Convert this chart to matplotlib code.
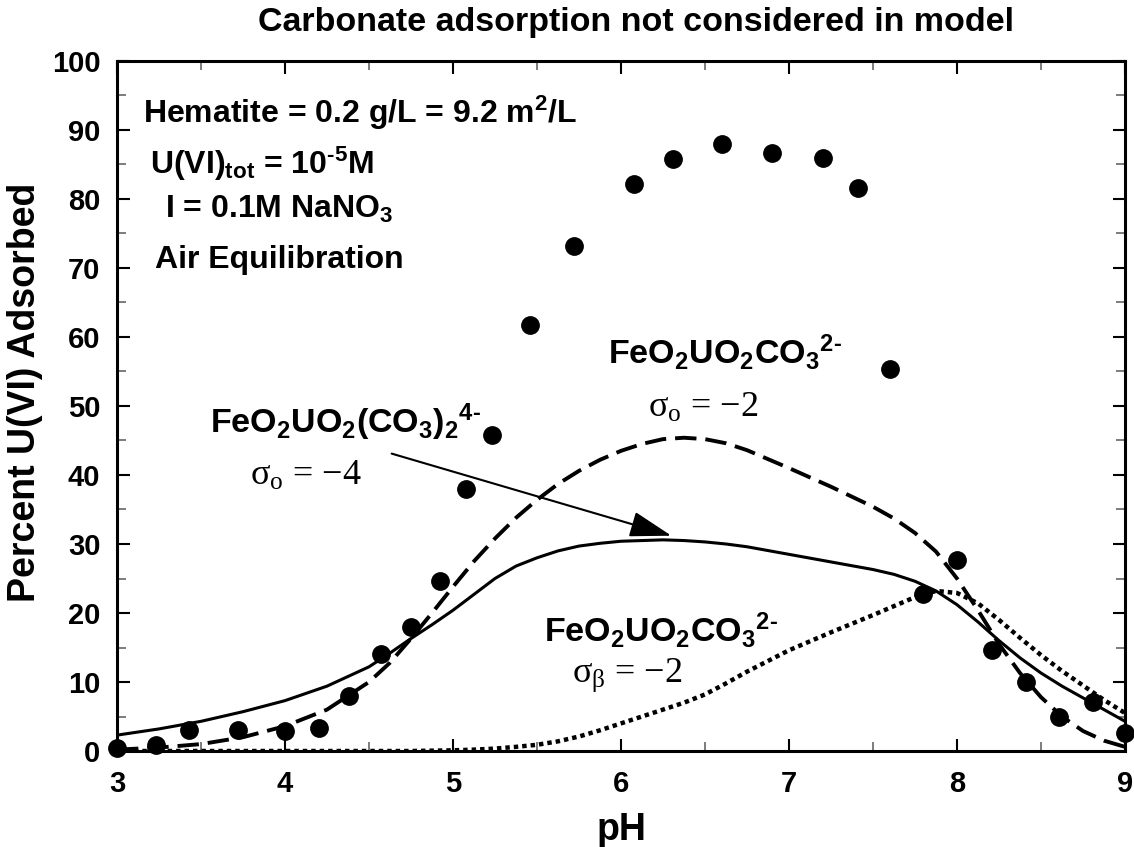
import matplotlib
matplotlib.use("Agg")
from matplotlib import pyplot as plt
import numpy as np

plt.rcParams['font.family'] = ['Liberation Sans', 'DejaVu Sans']
plt.rcParams['font.weight'] = 'bold'

# measured data (filled circles)
ph_data = [3.0, 3.23, 3.43, 3.72, 4.0, 4.2, 4.38, 4.57, 4.75, 4.92, 5.08, 5.23,
           5.46, 5.72, 6.08, 6.31, 6.60, 6.90, 7.20, 7.41, 7.60, 7.80, 8.0,
           8.21, 8.41, 8.61, 8.81, 9.0]
ads_data = [0.5, 0.9, 3.1, 3.0, 2.9, 3.4, 7.9, 14.0, 17.9, 24.6, 37.9, 45.8,
            61.7, 73.2, 82.2, 85.8, 87.9, 86.7, 85.9, 81.6, 55.3, 22.8, 27.7,
            14.6, 10.0, 4.9, 7.1, 2.6]

# model curves
ph_model = [3.0, 3.25, 3.5, 3.75, 4.0, 4.25, 4.5, 4.625, 4.75, 4.875, 5.0,
            5.125, 5.25, 5.375, 5.5, 5.625, 5.75, 5.875, 6.0, 6.125, 6.25,
            6.375, 6.5, 6.625, 6.75, 7.0, 7.25, 7.5, 7.625, 7.75, 7.875, 8.0,
            8.125, 8.25, 8.375, 8.5, 8.625, 8.75, 8.875, 9.0]
# FeO2UO2CO3(2-), sigma_o = -2  (dashed)
mono_o = [0.2, 0.5, 1.0, 2.0, 3.6, 6.0, 10.0, 12.8, 16.3, 20.0, 23.8,
          27.5, 30.8, 33.8, 36.4, 38.7, 40.6, 42.2, 43.5, 44.5, 45.2,
          45.4, 45.2, 44.6, 43.6, 41.0, 38.3, 35.4, 33.7, 31.6, 28.9, 25.0,
          20.4, 15.5, 11.3, 7.8, 5.0, 2.9, 1.5, 0.6]
# FeO2UO2(CO3)2(4-), sigma_o = -4  (solid)
bis_o = [2.3, 3.2, 4.3, 5.7, 7.3, 9.4, 12.2, 14.2, 16.3, 18.3, 20.4,
         22.7, 25.0, 26.8, 28.0, 29.0, 29.7, 30.1, 30.4, 30.5, 30.6,
         30.5, 30.3, 30.0, 29.6, 28.5, 27.4, 26.3, 25.6, 24.6, 23.2, 21.2,
         18.7, 16.0, 13.5, 11.3, 9.4, 7.7, 6.0, 4.3]
# FeO2UO2CO3(2-), sigma_beta = -2  (dotted)
mono_b = [0.0, 0.0, 0.0, 0.0, 0.0, 0.0, 0.0, 0.0, 0.0, 0.05, 0.1,
          0.2, 0.35, 0.6, 0.9, 1.4, 2.1, 3.0, 4.0, 5.0, 6.0,
          7.0, 8.2, 9.8, 11.5, 14.6, 17.2, 19.7, 21.0, 22.3, 23.2, 22.9,
          21.4, 19.0, 16.4, 13.9, 11.6, 9.5, 7.4, 5.5]

xticks = [3, 4, 5, 6, 7, 8, 9]
yticks = [0, 10, 20, 30, 40, 50, 60, 70, 80, 90, 100]

fig = plt.figure(figsize=(11.34, 8.47), dpi=100)
ax = fig.add_axes([117/1134, 96/847, 1008/1134, 690/847])

ax.plot(ph_model, mono_b, color='k', lw=3.2, linestyle=(0, (1, 0.9)))
ax.plot(ph_model, bis_o, color='k', lw=2.2)
ax.plot(ph_model, mono_o, color='k', lw=2.8, linestyle=(0, (5.5, 2.3)))
ax.plot(ph_data, ads_data, 'o', color='k', ms=12.5, clip_on=False, zorder=5)

ax.set_xlim(3, 9)
ax.set_ylim(0, 100)
ax.set_xticks(xticks)
ax.set_yticks(yticks)
ax.set_xticks(np.arange(3, 9.01, 0.5), minor=True)
ax.set_yticks(np.arange(0, 100.1, 5), minor=True)
ax.tick_params(which='both', direction='in', top=True, right=True, labelsize=21)
ax.tick_params(which='major', length=9, width=1.5)
ax.tick_params(which='minor', length=6.5, width=1.2, color='0.4')
ax.tick_params(axis='x', pad=14)
ax.tick_params(axis='y', pad=12)
for s in ax.spines.values():
    s.set_linewidth(2.2)

ax.set_xlabel('pH', fontsize=27, fontweight='bold')
ax.xaxis.set_label_coords(0.5, -0.088)
ax.set_ylabel('Percent U(VI) Adsorbed', fontsize=27, fontweight='bold')
ax.yaxis.set_label_coords(-0.073, 0.52)
fig.text(636/1134, 1 - 22/847, 'Carbonate adsorption not considered in model',
         ha='center', va='center', fontsize=24.5, fontweight='bold')

# conditions
info = dict(fontsize=23, fontweight='bold', ha='left', va='baseline')
ax.text(3.155, 91.0, r'Hematite = 0.2 g/L = 9.2 $\mathregular{m^2}$/L', **info)
ax.text(3.196, 83.6, '$\\mathregular{U(VI)_{tot}}$ = $\\mathregular{10^{\u20105}}$M', **info)
ax.text(3.286, 77.2, r'I = 0.1M $\mathregular{NaNO_3}$', **info)
ax.text(3.226, 70.0, 'Air Equilibration', **info)

# species labels
spec = dict(fontsize=24.5, fontweight='bold', ha='left', va='baseline')
ax.text(3.554, 46.1, '$\\mathregular{FeO_2UO_2(CO_3)_2{}^{4\u2010}}$', **spec)
ax.text(5.92, 56.2, '$\\mathregular{FeO_2UO_2CO_3{}^{2\u2010}}$', **spec)
ax.text(5.54, 15.8, '$\\mathregular{FeO_2UO_2CO_3{}^{2\u2010}}$', **spec)

sig = dict(fontsize=26, fontweight='normal', family='Liberation Serif',
           ha='left', va='baseline')
ax.text(3.79, 38.6, '\u03c3$\\mathregular{_o}$ = \u22124', **sig)
ax.text(6.16, 48.4, '\u03c3$\\mathregular{_o}$ = \u22122', **sig)
ax.text(5.71, 10.0, '\u03c3$\\mathregular{_\u03b2}$ = \u22122', **sig)

ax.annotate('', xy=(6.30, 31.2), xytext=(4.635, 43.1),
            arrowprops=dict(arrowstyle='-|>,head_length=1.3,head_width=0.4',
                            mutation_scale=20, color='k', lw=1.5,
                            shrinkA=0, shrinkB=0))

fig.savefig('out.png', dpi=100)
